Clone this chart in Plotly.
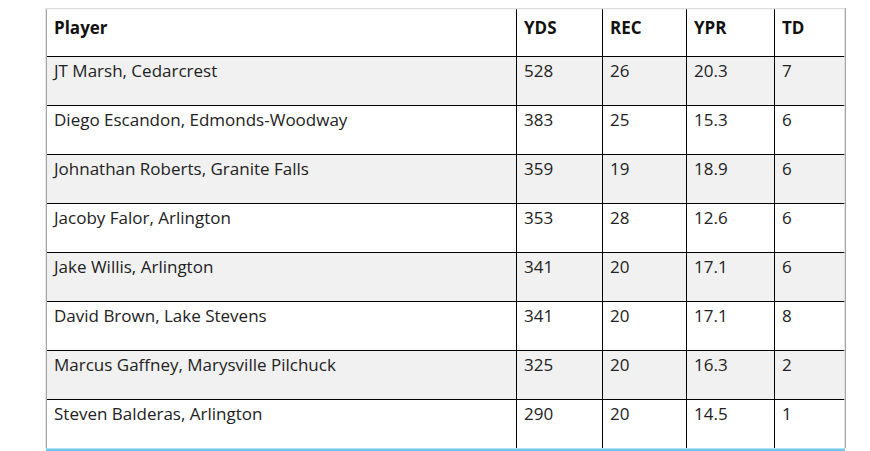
import plotly.graph_objects as go

headers = ["Player", "YDS", "REC", "YPR", "TD"]
players = ["JT Marsh, Cedarcrest", "Diego Escandon, Edmonds-Woodway", "Johnathan Roberts, Granite Falls",
           "Jacoby Falor, Arlington", "Jake Willis, Arlington", "David Brown, Lake Stevens",
           "Marcus Gaffney, Marysville Pilchuck", "Steven Balderas, Arlington"]
yds = [528, 383, 359, 353, 341, 341, 325, 290]
rec = [26, 25, 19, 28, 20, 20, 20, 20]
ypr = ["20.3", "15.3", "18.9", "12.6", "17.1", "17.1", "16.3", "14.5"]
td = [7, 6, 6, 6, 6, 8, 2, 1]

W, H = 870, 451
x0, x1, top, bot = 38, 837, 0, 440
fills = ["#f1f1f1" if i % 2 == 0 else "#ffffff" for i in range(len(players))]
ytop, ybot = 1 - top / H, 1 - bot / H

fig = go.Figure(go.Table(
    domain=dict(x=[x0 / W, x1 / W], y=[ybot, ytop]),
    columnwidth=[470, 86, 84, 88, 71],
    header=dict(values=["<b>%s</b>" % h for h in headers], align="left", height=48,
                fill_color="white", line=dict(color="black", width=1),
                font=dict(family="Open Sans", size=17, color="#111")),
    cells=dict(values=[players, yds, rec, ypr, td], align="left", height=49,
               fill_color=[fills] * 5, line=dict(color="black", width=1),
               font=dict(family="Open Sans", size=17, color="#222")),
))
gray = dict(color="#dddddd", width=1.5)
fig.add_shape(type="line", xref="paper", yref="paper", x0=x0 / W, x1=x0 / W, y0=ybot, y1=ytop, line=gray, layer="above")
fig.add_shape(type="line", xref="paper", yref="paper", x0=x1 / W, x1=x1 / W, y0=ybot, y1=ytop, line=gray, layer="above")
fig.add_shape(type="line", xref="paper", yref="paper", x0=x0 / W, x1=x1 / W, y0=ytop - 0.5 / H, y1=ytop - 0.5 / H, line=gray, layer="above")
fig.add_shape(type="line", xref="paper", yref="paper", x0=x0 / W, x1=x1 / W, y0=ybot - 2 / H, y1=ybot - 2 / H,
              line=dict(color="#6ec6f0", width=3), layer="above")
fig.update_layout(width=W, height=H, margin=dict(l=0, r=0, t=0, b=0), paper_bgcolor="white")
fig.write_html("out.html")
